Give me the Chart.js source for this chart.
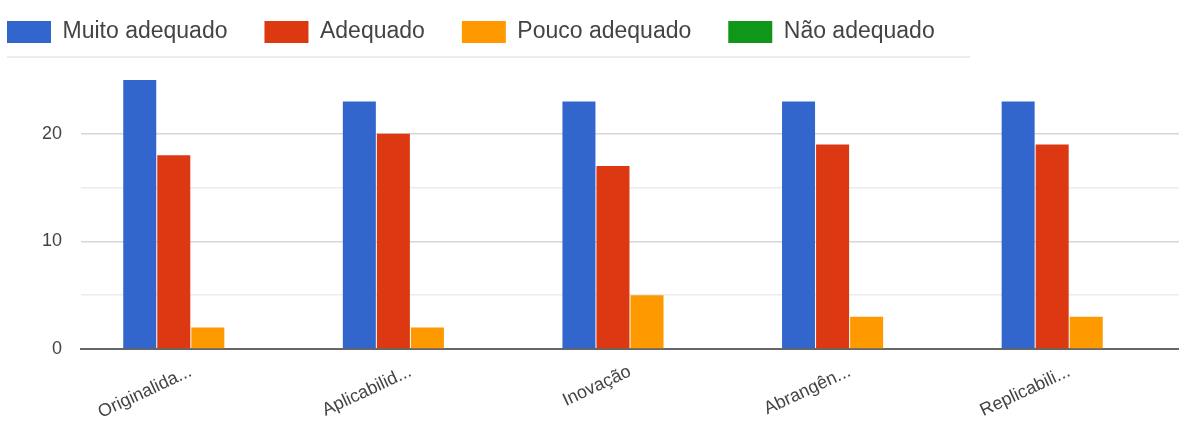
<!DOCTYPE html>
<html>
<head>
<meta charset="utf-8">
<script src="https://cdn.jsdelivr.net/npm/chart.js@4/dist/chart.umd.min.js"></script>
<style>
  html, body { margin: 0; padding: 0; background: #fff; }
  .chart-container { position: relative; width: 1179px; height: 421px; }
</style>
</head>
<body>
<div class="chart-container">
  <canvas id="chart"></canvas>
</div>
<script>
// Categories (labels truncated as in the source chart)
const categories = ['Originalida...', 'Aplicabilid...', 'Inovação', 'Abrangên...', 'Replicabili...'];

// Series values, one per category
const muitoAdequado = [25, 23, 23, 23, 23];
const adequado = [18, 20, 17, 19, 19];
const poucoAdequado = [2, 2, 5, 3, 3];
const naoAdequado = [0, 0, 0, 0, 0];

const seriesNames = ['Muito adequado', 'Adequado', 'Pouco adequado', 'Não adequado'];
const seriesColors = ['#3366cc', '#dc3912', '#ff9900', '#109618'];

// y ticks that get a label; the others are minor gridlines
const labelledTicks = [0, 10, 20];

const FONT = '"Liberation Sans", Arial, sans-serif';

// legend padding doubles as the gap between items, so pull the legend
// back up/left after layout, then draw the light rule under it
const legendTweaks = {
  id: 'legendTweaks',
  afterLayout(chart) {
    const lg = chart.legend;
    if (!lg) return;
    lg.left -= 30;
    lg.top = -16.5;
  },
  afterDraw(chart) {
    const ctx = chart.ctx;
    ctx.save();
    ctx.strokeStyle = '#ececec';
    ctx.lineWidth = 2;
    ctx.beginPath();
    ctx.moveTo(7, 57);
    ctx.lineTo(970, 57);
    ctx.stroke();
    ctx.restore();
  }
};

const datasets = [muitoAdequado, adequado, poucoAdequado, naoAdequado].map((data, i) => ({
  label: seriesNames[i],
  data,
  backgroundColor: seriesColors[i],
  borderWidth: 0,
  categoryPercentage: 0.62,
  barPercentage: 0.97
}));

new Chart(document.getElementById('chart').getContext('2d'), {
  type: 'bar',
  data: { labels: categories, datasets },
  plugins: [legendTweaks],
  options: {
    responsive: true,
    maintainAspectRatio: false,
    animation: false,
    layout: { padding: { top: 10, left: 0, right: 0, bottom: 0 } },
    plugins: {
      legend: {
        position: 'top',
        align: 'start',
        labels: {
          boxWidth: 44,
          boxHeight: 22,
          padding: 37,
          color: '#444',
          font: { family: FONT, size: 23 }
        }
      },
      tooltip: { enabled: false }
    },
    scales: {
      x: {
        afterFit: (axis) => { axis.height = 72; },
        grid: { display: false, drawTicks: false },
        border: { display: true, color: '#666', width: 2 },
        ticks: {
          autoSkip: false,
          minRotation: 25,
          maxRotation: 25,
          padding: 12,
          color: '#444',
          font: { family: FONT, size: 18 }
        }
      },
      y: {
        min: 0,
        max: 25,
        afterFit: (axis) => { axis.width = 81; },
        border: { display: false },
        grid: {
          drawTicks: false,
          lineWidth: (c) => (c.tick && c.tick.value === 25 ? 0 : 1.5),
          color: (c) => (c.tick && labelledTicks.includes(c.tick.value) ? '#d6d6d6' : '#ececec')
        },
        ticks: {
          stepSize: 5,
          padding: 19,
          color: '#444',
          font: { family: FONT, size: 18 },
          callback: (v) => (labelledTicks.includes(v) ? String(v) : '')
        }
      }
    }
  }
});
</script>
</body>
</html>
